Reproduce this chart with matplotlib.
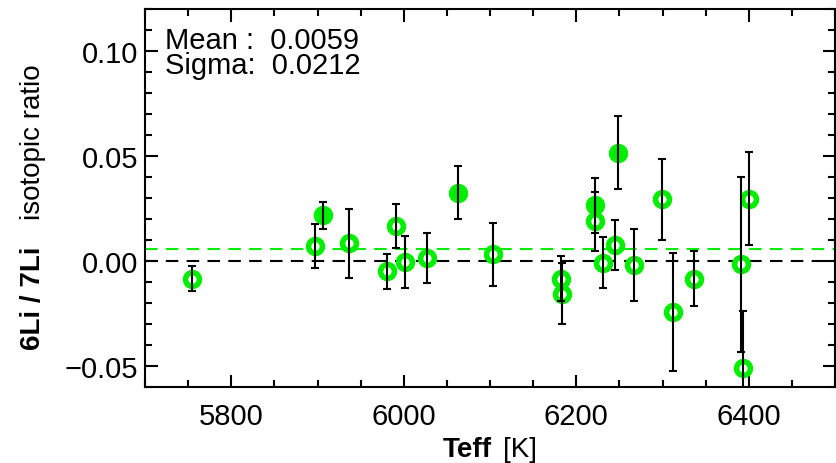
import matplotlib
matplotlib.use("Agg")
import matplotlib.pyplot as plt
from matplotlib.ticker import MultipleLocator, FuncFormatter

# Stars without a 6Li detection (open symbols)
teff_open = [5754, 5897, 5936, 5980, 5991, 6001, 6027, 6104, 6182, 6184,
             6222, 6231, 6245, 6267, 6299, 6312, 6336, 6391, 6393, 6400]
ratio_open = [-0.0084, 0.0071, 0.0084, -0.0048, 0.0167, -0.0005, 0.0013, 0.0032, -0.0084, -0.0155,
              0.0190, -0.0008, 0.0076, -0.0020, 0.0294, -0.0243, -0.0084, -0.0016, -0.0508, 0.0297]
err_open = [0.0060, 0.0103, 0.0163, 0.0083, 0.0103, 0.0125, 0.0120, 0.0150, 0.0108, 0.0146,
            0.0140, 0.0120, 0.0118, 0.0172, 0.0194, 0.0280, 0.0130, 0.0418, 0.0270, 0.0222]

# Stars with a 6Li detection (filled symbols)
teff_filled = [5906, 6063, 6222, 6248]
ratio_filled = [0.0218, 0.0326, 0.0265, 0.0516]
err_filled = [0.0065, 0.0128, 0.0132, 0.0175]

mean_ratio = 0.0059
sigma_ratio = 0.0212

x_ticks = [5800, 6000, 6200, 6400]
y_ticks = [-0.05, 0.00, 0.05, 0.10]

GREEN = "#00ee00"
FONT = "Liberation Sans"
FS = 21

plt.rcParams["font.family"] = [FONT, "DejaVu Sans"]

W, H = 837, 464
fig = plt.figure(figsize=(W / 100, H / 100), dpi=100)
ax = fig.add_axes([145 / W, 76 / H, 690 / W, 378 / H])

ax.set_xlim(5700, 6500)
ax.set_ylim(-0.06, 0.12)

ax.axhline(0.0, color="black", lw=1.5, ls=(0, (6, 4)), zorder=1)
ax.axhline(mean_ratio, color=GREEN, lw=1.5, ls=(0, (6, 4)), zorder=1)

ax.plot(teff_open, ratio_open, "o", ms=10, mfc="white", mec=GREEN, mew=4, zorder=2)
ax.plot(teff_filled, ratio_filled, "o", ms=10, mfc=GREEN, mec=GREEN, mew=4, zorder=2)

ax.errorbar(teff_open, ratio_open, yerr=err_open, fmt="none", ecolor="black",
            elinewidth=1.5, capsize=3, capthick=1.5, zorder=3)
ax.errorbar(teff_filled, ratio_filled, yerr=err_filled, fmt="none", ecolor="black",
            elinewidth=1.5, capsize=3, capthick=1.5, zorder=3)

ax.set_xticks(x_ticks)
ax.set_yticks(y_ticks)
ax.yaxis.set_major_formatter(FuncFormatter(lambda v, pos: f"{v:.2f}".replace("-", "\u2212")))
ax.xaxis.set_minor_locator(MultipleLocator(50))
ax.yaxis.set_minor_locator(MultipleLocator(0.01))
ax.tick_params(which="both", direction="in", top=True, right=True, width=1.5, labelsize=FS)
ax.tick_params(which="major", length=9)
ax.tick_params(which="minor", length=5)
ax.tick_params(axis="x", which="major", pad=11)
ax.tick_params(axis="y", which="major", pad=5)
for s in ax.spines.values():
    s.set_linewidth(1.5)

def fx(px):
    return px / W

def fy(py):
    return (H - py) / H

# Axis titles with mixed weights
fig.text(fx(443), fy(456.7), "Teff", fontsize=FS - 1, fontweight="bold",
         ha="left", va="baseline")
fig.text(fx(537), fy(456.7), "[K]", fontsize=FS - 1, ha="right", va="baseline")
fig.text(fx(33), fy(298), "6Li / 7Li", fontsize=FS - 1, fontweight="bold",
         rotation=90, ha="center", va="center")
fig.text(fx(33), fy(142.5), "isotopic ratio", fontsize=FS - 1,
         rotation=90, ha="center", va="center")

# Statistics annotation
stats = f"Mean :  {mean_ratio:.4f}\nSigma:  {sigma_ratio:.4f}"
fig.text(fx(165), fy(27), stats, fontsize=FS, ha="left", va="top", linespacing=0.86)

fig.savefig("out.png", dpi=100)
